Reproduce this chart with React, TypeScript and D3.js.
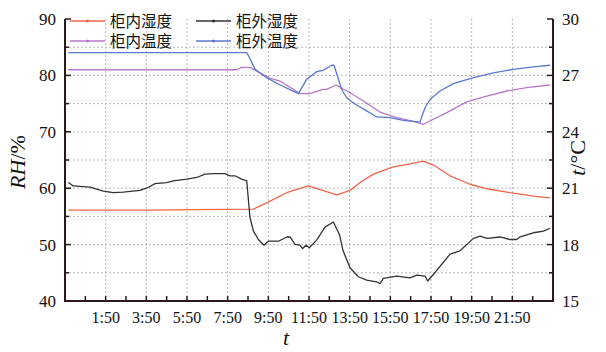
import React from "react";
import * as d3 from "d3";

// time in hours of day; axis spans 23:50 (prev day) to 23:50
const inHumT = [0, 4, 6.3, 9.1, 9.75, 10.74, 11.8, 13.2, 13.85, 14.34, 15.0, 15.98, 16.8, 17.46, 17.95, 18.77, 19.75, 20.58, 21.72, 22.87, 23.69];
const inHumV = [56.1, 56.1, 56.2, 56.3, 57.4, 59.2, 60.4, 58.8, 59.6, 61.0, 62.5, 63.8, 64.3, 64.8, 64.1, 62.2, 60.7, 59.9, 59.2, 58.6, 58.3];

const outHumT = [0, 0.24, 1.06, 1.72, 2.21, 2.7, 3.52, 3.85, 4.26, 4.83, 5.16, 5.82, 6.31, 6.72, 7.13, 7.7, 7.95, 8.2, 8.52, 8.77, 8.93, 9.1, 9.34, 9.62, 9.83, 10.33, 10.74, 10.9, 11.15, 11.39, 11.52, 11.69, 11.85, 12.21, 12.62, 13.03, 13.33, 13.51, 13.85, 14.26, 14.67, 15.16, 15.33, 15.49, 16.15, 16.8, 17.13, 17.54, 17.67, 17.95, 18.77, 19.26, 19.92, 20.25, 20.58, 21.23, 21.72, 22.05, 22.21, 22.87, 23.36, 23.69];
const outHumV = [61.0, 60.4, 60.2, 59.5, 59.2, 59.3, 59.6, 60.0, 60.8, 61.0, 61.3, 61.6, 61.9, 62.5, 62.6, 62.6, 62.2, 62.2, 61.6, 61.3, 54.8, 52.4, 50.9, 49.9, 50.6, 50.6, 51.35, 51.35, 50.05, 49.9, 49.3, 49.9, 49.45, 50.8, 53.1, 54.0, 51.8, 48.9, 45.9, 44.3, 43.7, 43.4, 43.1, 44.0, 44.4, 44.1, 44.6, 44.4, 43.55, 44.7, 48.3, 48.9, 51.1, 51.5, 51.1, 51.35, 50.9, 50.9, 51.35, 52.1, 52.4, 52.9];

const inTempT = [0, 8.28, 8.52, 8.93, 9.26, 9.92, 10.41, 11.39, 11.88, 12.52, 12.7, 13.16, 13.69, 13.85, 14.51, 15.33, 16.15, 17.13, 17.46, 18.61, 19.59, 20.58, 21.56, 22.54, 23.69];
const inTempV = [27.3, 27.3, 27.43, 27.43, 27.23, 26.85, 26.7, 26.03, 26.03, 26.26, 26.26, 26.49, 26.17, 26.08, 25.64, 25.05, 24.75, 24.52, 24.4, 25.02, 25.59, 25.9, 26.17, 26.35, 26.49];

const outTempT = [0, 8.77, 8.93, 9.18, 9.75, 10.41, 11.31, 11.72, 12.21, 12.52, 12.95, 13.06, 13.44, 13.69, 14.0, 14.26, 14.67, 15.16, 15.82, 16.47, 17.29, 17.54, 17.79, 18.28, 18.93, 19.92, 20.9, 21.88, 22.87, 23.69];
const outTempV = [28.21, 28.21, 27.9, 27.32, 26.88, 26.49, 26.03, 26.8, 27.2, 27.27, 27.54, 27.55, 26.25, 25.81, 25.55, 25.37, 25.11, 24.79, 24.75, 24.61, 24.52, 25.28, 25.73, 26.17, 26.56, 26.88, 27.14, 27.32, 27.45, 27.54];

const xTickHours = [1, 3, 5, 7, 9, 11, 13, 15, 17, 19, 21];
const xTickLabels = ["1:50", "3:50", "5:50", "7:50", "9:50", "11:50", "13:50", "15:50", "17:50", "19:50", "21:50"];
const rhTicks = [40, 50, 60, 70, 80, 90];
const tTicks = [15, 18, 21, 24, 27, 30];

const seriesNames = ["柜内湿度", "柜外湿度", "柜内温度", "柜外温度"];
const colors = ["#f0644a", "#333333", "#b878c8", "#5a78d0"];

const W = 606, H = 352;
const L = 65, R = 553, T = 19, B = 301;
const AX = "#2b1818";
const serif = "'Liberation Serif', 'DejaVu Serif', 'Noto Sans CJK SC', serif";
const cjk = "'Noto Sans CJK SC', 'Liberation Serif', serif";

export default function App() {
  const x = d3.scaleLinear().domain([-10 / 60, 23 + 50 / 60]).range([L, R]);
  const yL = d3.scaleLinear().domain([40, 90]).range([B, T]);
  const yR = d3.scaleLinear().domain([15, 30]).range([B, T]);
  const off = 50 / 60;

  const mk = (ts: number[], vs: number[], ys: d3.ScaleLinear<number, number>) =>
    d3.line<number>().x((_, i) => x(ts[i])).y((v) => ys(v))(vs) || "";

  const paths = [
    mk(inHumT, inHumV, yL),
    mk(outHumT, outHumV, yL),
    mk(inTempT, inTempV, yR),
    mk(outTempT, outTempV, yR),
  ];

  const hourTicks = d3.range(0, 24).map((h) => h + off);
  const rhGrid = d3.range(45, 90, 5);
  const rhMinor = d3.range(45, 90, 10);
  const tMinor = d3.range(16.5, 30, 3);

  const legend = [
    { x0: 70, y: 21, i: 0 },
    { x0: 196, y: 21, i: 1 },
    { x0: 70, y: 41, i: 2 },
    { x0: 196, y: 41, i: 3 },
  ];

  return (
    <svg width={W} height={H} style={{ display: "block", position: "absolute", left: 0, top: 0 }}>
      <rect width={W} height={H} fill="#fff" />
      {/* grid */}
      {rhGrid.map((v) => (
        <line key={"hg" + v} x1={L} x2={R} y1={yL(v)} y2={yL(v)} stroke="#b8b8b8" strokeDasharray="2,2" strokeWidth={1} />
      ))}
      {xTickHours.map((h) => (
        <line key={"vg" + h} x1={x(h + off)} x2={x(h + off)} y1={T} y2={B} stroke="#b8b8b8" strokeDasharray="2,2" strokeWidth={1} />
      ))}
      {/* series */}
      {paths.map((p, i) => (
        <path key={"s" + i} d={p} fill="none" stroke={colors[i]} strokeWidth={1.3} strokeLinejoin="round" />
      ))}
      {/* axes */}
      <line x1={L} x2={L} y1={T} y2={B + 1} stroke={AX} strokeWidth={2} />
      <line x1={R} x2={R} y1={T} y2={B + 1} stroke={AX} strokeWidth={2} />
      <line x1={L - 1} x2={R + 1} y1={B} y2={B} stroke={AX} strokeWidth={2} />
      {hourTicks.map((h) => (
        <line key={"xt" + h} x1={x(h)} x2={x(h)} y1={B} y2={B - 5} stroke={AX} strokeWidth={1.5} />
      ))}
      {rhTicks.map((v) => (
        <line key={"lt" + v} x1={L} x2={L + 6} y1={yL(v)} y2={yL(v)} stroke={AX} strokeWidth={1.5} />
      ))}
      {rhMinor.map((v) => (
        <line key={"lm" + v} x1={L} x2={L + 4} y1={yL(v)} y2={yL(v)} stroke={AX} strokeWidth={1.5} />
      ))}
      {tTicks.map((v) => (
        <line key={"rt" + v} x1={R} x2={R - 6} y1={yR(v)} y2={yR(v)} stroke={AX} strokeWidth={1.5} />
      ))}
      {tMinor.map((v) => (
        <line key={"rm" + v} x1={R} x2={R - 4} y1={yR(v)} y2={yR(v)} stroke={AX} strokeWidth={1.5} />
      ))}
      {/* tick labels */}
      {rhTicks.map((v) => (
        <text key={"ll" + v} x={L - 9} y={yL(v)} dy="0.35em" textAnchor="end" fontFamily={serif} fontSize={17} fill="#111">
          {v}
        </text>
      ))}
      {tTicks.map((v) => (
        <text key={"rl" + v} x={R + 9} y={yR(v)} dy="0.35em" textAnchor="start" fontFamily={serif} fontSize={17} fill="#111">
          {v}
        </text>
      ))}
      {xTickHours.map((h, i) => (
        <text key={"xl" + h} x={x(h + off)} y={323} textAnchor="middle" fontFamily={serif} fontSize={16} fill="#111">
          {xTickLabels[i]}
        </text>
      ))}
      {/* axis titles */}
      <text transform="translate(25,162) rotate(-90)" textAnchor="middle" fontFamily={serif} fontSize={22} fill="#111">
        <tspan fontStyle="italic">RH</tspan>/%
      </text>
      <text transform="translate(585,158) rotate(-90)" textAnchor="middle" fontFamily={serif} fontSize={22} fill="#111">
        <tspan fontStyle="italic">t</tspan>/°C
      </text>
      <text x={286} y={345} textAnchor="middle" fontFamily={serif} fontSize={22} fontStyle="italic" fill="#111">
        t
      </text>
      {/* legend */}
      {legend.map((g) => (
        <g key={"lg" + g.i}>
          <line x1={g.x0} x2={g.x0 + 35} y1={g.y} y2={g.y} stroke={colors[g.i]} strokeWidth={1.3} />
          <circle cx={g.x0 + 17.5} cy={g.y} r={1.6} fill={colors[g.i]} />
          <text x={g.x0 + 40} y={g.y} dy="0.36em" fontFamily={cjk} fontSize={15.5} fill="#111">
            {seriesNames[g.i]}
          </text>
        </g>
      ))}
    </svg>
  );
}
